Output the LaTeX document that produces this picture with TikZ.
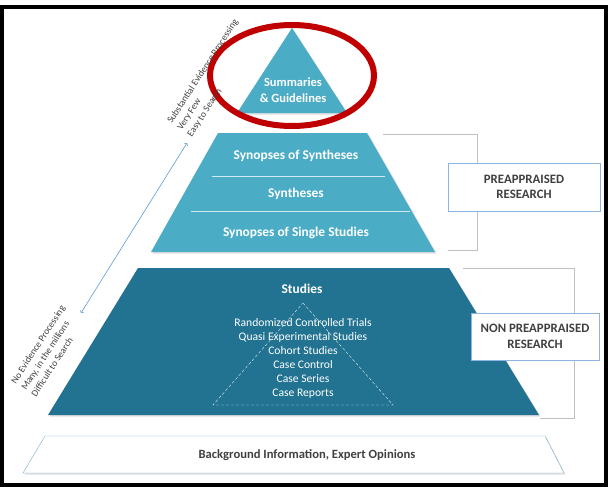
\documentclass[tikz,border=0pt]{standalone}
\usepackage{fontspec}
\setmainfont{Carlito}
\usetikzlibrary{shadows}

\definecolor{aqua}{RGB}{75,172,198}
\definecolor{deepteal}{RGB}{33,115,145}
\definecolor{boxblue}{RGB}{141,180,226}
\definecolor{bargray}{RGB}{191,191,191}
\definecolor{barteal}{RGB}{120,172,194}
\definecolor{arrowblue}{RGB}{91,155,213}
\definecolor{ringred}{RGB}{192,0,0}
\definecolor{darktext}{RGB}{64,64,64}

\begin{document}
\begin{tikzpicture}[x=1pt,y=-1pt,
    tier/.style={font=\bfseries\fontsize{13.4}{16}\selectfont, text=white, align=center},
    design/.style={font=\fontsize{11.6}{14}\selectfont, text=white, align=center},
    label box/.style={draw=boxblue, fill=white, font=\bfseries\fontsize{12.8}{15.5}\selectfont,
        text=darktext, align=center},
    bracket/.style={draw=bargray, thin},
    slanted/.style={font=\fontsize{9.5}{12}\selectfont, text=darktext, align=left, rotate=57},
    shade/.style={drop shadow={shadow xshift=1.5pt, shadow yshift=-1.5pt, opacity=0.25}}]
    \useasboundingbox (0,0) rectangle (608,487);

    % Frame
    \draw[line width=4pt] (2,7) rectangle (606,485);

    % Top tier
    \fill[aqua, shade] (292,28) -- (347,113) -- (237,113) -- cycle;
    \node[tier, font=\bfseries\fontsize{12.5}{16}\selectfont] (summ) at (293,90) {Summaries\\\& Guidelines};
    \draw[ringred, line width=6pt] (292,75.5) ellipse [x radius=82, y radius=50.5];

    % Preappraised tiers
    \fill[aqua, shade] (218,133) -- (367,133) -- (435,252) -- (151,252) -- cycle;
    \draw[white!75!aqua, thin] (212,176) -- (385,176);
    \draw[white!75!aqua, thin] (191,211) -- (410,211);
    \node[tier] (synsyn) at (296,156) {Synopses of Syntheses};
    \node[tier] (syn) at (296,194) {Syntheses};
    \node[tier] (single) at (296,233) {Synopses of Single Studies};

    % Non preappraised tier
    \fill[deepteal, shade] (138,268) -- (449,268) -- (539,415) -- (48,415) -- cycle;
    \draw[white!85!deepteal, densely dashed, thin] (303,303) -- (393,405) -- (213,405) -- cycle;
    \node[tier] (studies) at (302,289) {Studies};
    \node[design] (designs) at (303,358) {Randomized Controlled Trials\\Quasi Experimental Studies\\
        Cohort Studies\\Case Control\\Case Series\\Case Reports};

    % Base
    \draw[barteal, fill=white, shade] (45,436) -- (545,436) -- (564,473) -- (23,473) -- cycle;
    \node[font=\bfseries\fontsize{12.6}{15}\selectfont, text=darktext] (background) at (307,455)
        {Background Information, Expert Opinions};

    % Brackets and labels
    \draw[bracket] (383,134) -- (477,134) -- (477,250) -- (448,250);
    \draw[bracket] (463,268) -- (574,268) -- (574,418) -- (540,418);
    \node[label box, minimum width=152, minimum height=48] (pre) at (524,187) {PREAPPRAISED\\RESEARCH};
    \node[label box, minimum width=128, minimum height=47] (nonpre) at (535,336.5) {NON PREAPPRAISED\\RESEARCH};

    % Processing arrow
    \coordinate (few) at (187,143);
    \coordinate (many) at (81,313);
    \draw[<->, arrowblue, semithick] (many) -- (few);
    \node[slanted] (easy) at (213,78) {Substantial Evidence Processing\\Very Few\\Easy to Search};
    \node[slanted] (hard) at (48,351) {No Evidence Processing\\Many, in the millions\\Difficult to Search};
\end{tikzpicture}
\end{document}
